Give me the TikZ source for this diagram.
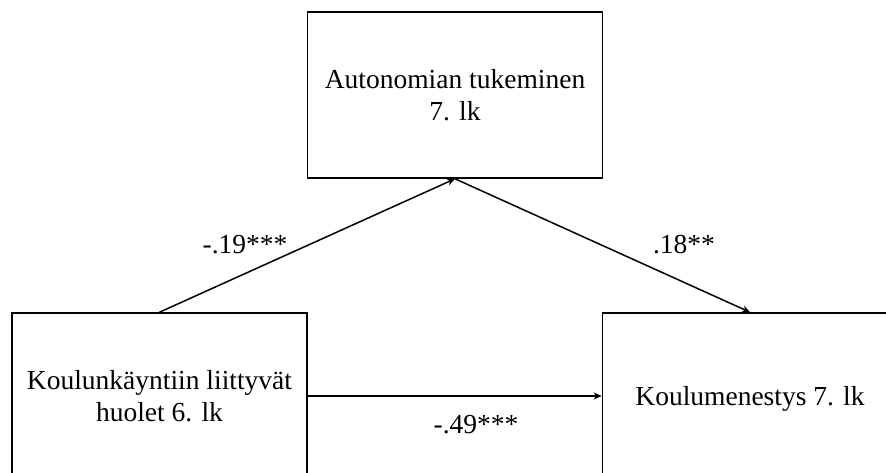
\documentclass[tikz,border=0pt]{standalone}
\usepackage{fontspec}
\setmainfont{Liberation Serif}
\usetikzlibrary{arrows.meta}
\begin{document}
\begin{tikzpicture}[x=1pt,y=-1pt,
  box/.style={draw,line width=1.6pt,minimum width=295pt,minimum height=166pt,inner sep=0pt,align=center,font=\fontsize{27.5}{32}\selectfont},
  lbl/.style={anchor=base,inner sep=0pt,font=\fontsize{27.5}{32}\selectfont},
  conn/.style={line width=1.5pt,-{Stealth[length=8pt,width=7pt]}}]
\useasboundingbox (0,0) rectangle (886,472);
\clip (0,0) rectangle (886,472);
\node[box] (T) at (455,95) {Autonomian tukeminen\\7. lk};
\node[box] (L) at (159.5,396) {Koulunkäyntiin liittyvät\\huolet 6. lk};
\node[box,text depth=0pt] (R) at (750,396) {Koulumenestys 7. lk};
\draw[conn] (L.north) -- (T.south);
\draw[conn] (T.south) -- (R.north);
\draw[conn] (L.east) -- (R.west);
\node[lbl] (a) at (245,253) {-.19***};
\node[lbl] (b) at (684,253) {.18**};
\node[lbl] (c) at (476,433) {-.49***};
\end{tikzpicture}
\end{document}
